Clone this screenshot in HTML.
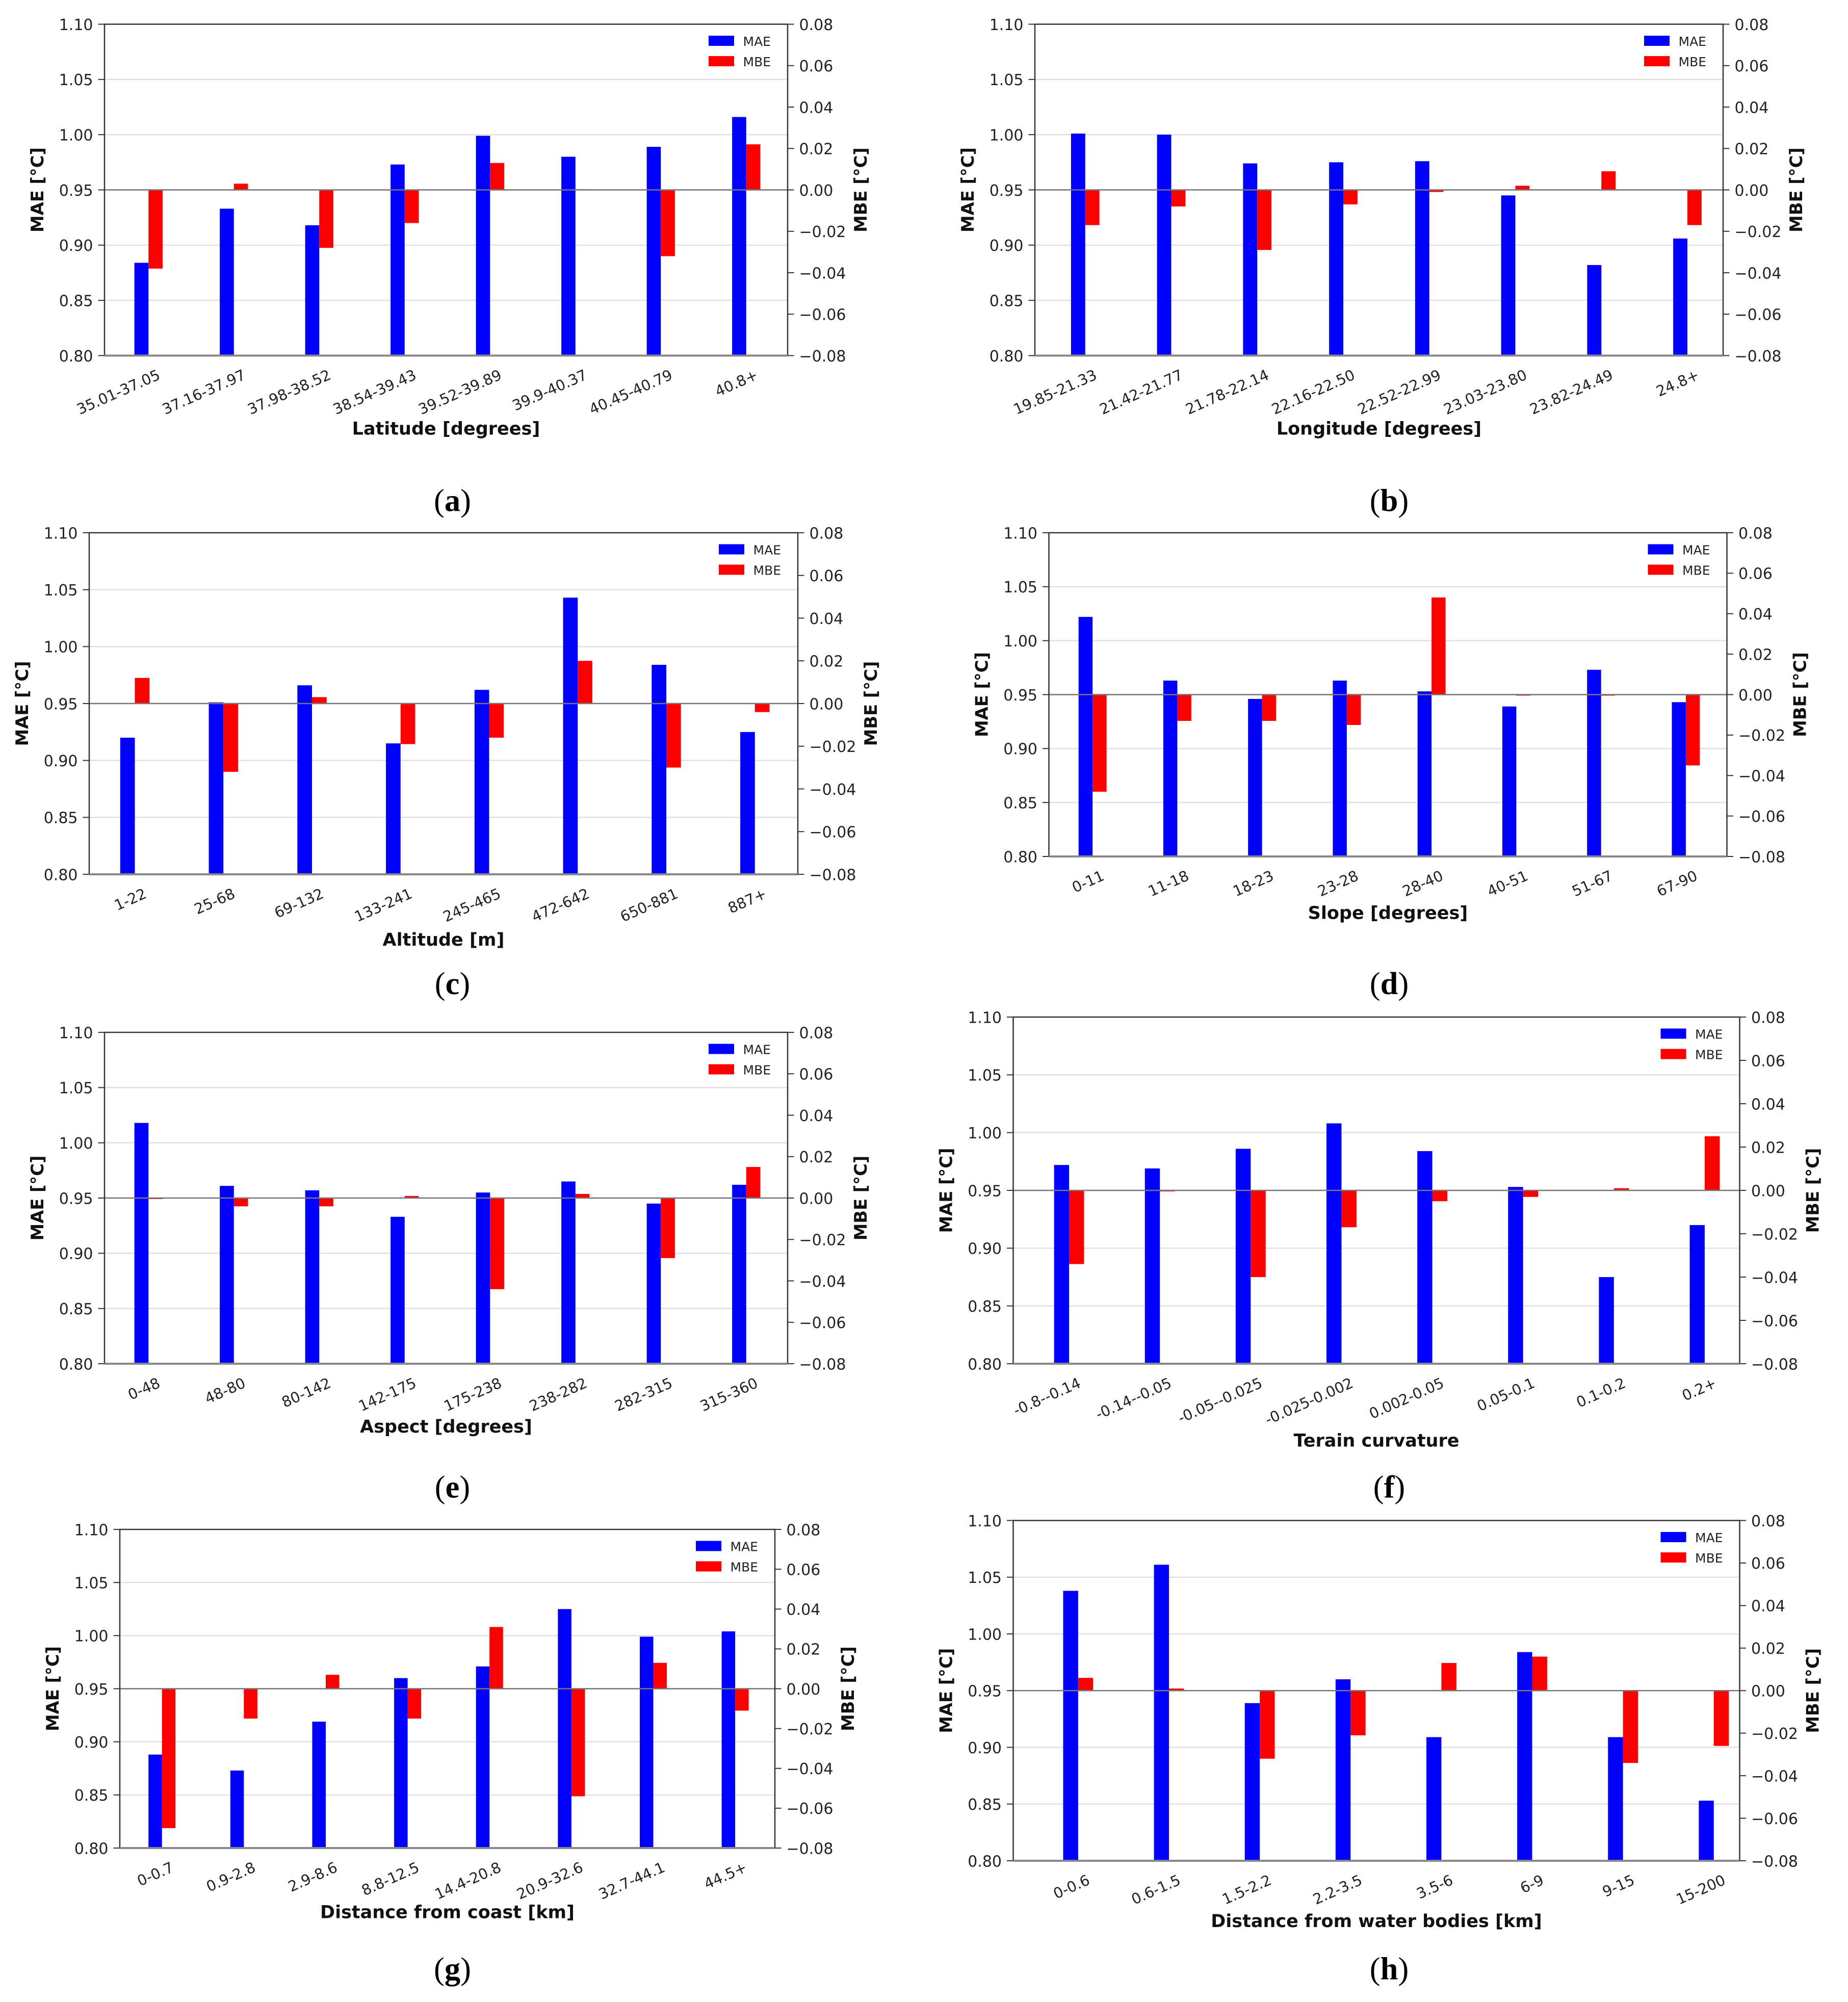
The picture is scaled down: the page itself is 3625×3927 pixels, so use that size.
<!DOCTYPE html>
<html><head><meta charset="utf-8"><style>
html,body{margin:0;padding:0;background:#fff;}
svg{display:block;}
text{font-family:"DejaVu Sans","Liberation Sans",sans-serif;}
.cap{font-family:"Liberation Serif",serif;}
</style></head><body>
<svg id="fig" width="3625" height="3927" viewBox="0 0 1450 1570.8" xmlns="http://www.w3.org/2000/svg"></svg>
<script>
// ---- data ----
const catsA = ["35.01-37.05","37.16-37.97","37.98-38.52","38.54-39.43","39.52-39.89","39.9-40.37","40.45-40.79","40.8+"];
const maeA = [0.884,0.933,0.918,0.973,0.999,0.980,0.989,1.016];
const mbeA = [-0.038,0.003,-0.028,-0.016,0.013,0.0003,-0.032,0.022];
const catsB = ["19.85-21.33","21.42-21.77","21.78-22.14","22.16-22.50","22.52-22.99","23.03-23.80","23.82-24.49","24.8+"];
const maeB = [1.001,1.000,0.974,0.975,0.976,0.945,0.882,0.906];
const mbeB = [-0.017,-0.008,-0.029,-0.007,-0.001,0.002,0.009,-0.017];
const catsC = ["1-22","25-68","69-132","133-241","245-465","472-642","650-881","887+"];
const maeC = [0.920,0.951,0.966,0.915,0.962,1.043,0.984,0.925];
const mbeC = [0.012,-0.032,0.003,-0.019,-0.016,0.020,-0.030,-0.004];
const catsD = ["0-11","11-18","18-23","23-28","28-40","40-51","51-67","67-90"];
const maeD = [1.022,0.963,0.946,0.963,0.953,0.939,0.973,0.943];
const mbeD = [-0.048,-0.013,-0.013,-0.015,0.048,0,0,-0.035];
const catsE = ["0-48","48-80","80-142","142-175","175-238","238-282","282-315","315-360"];
const maeE = [1.018,0.961,0.957,0.933,0.955,0.965,0.945,0.962];
const mbeE = [0,-0.004,-0.004,0.001,-0.044,0.002,-0.029,0.015];
const catsF = ["-0.8--0.14","-0.14--0.05","-0.05--0.025","-0.025-0.002","0.002-0.05","0.05-0.1","0.1-0.2","0.2+"];
const maeF = [0.972,0.969,0.986,1.008,0.984,0.953,0.875,0.920];
const mbeF = [-0.034,0,-0.040,-0.017,-0.005,-0.003,0.001,0.025];
const catsG = ["0-0.7","0.9-2.8","2.9-8.6","8.8-12.5","14.4-20.8","20.9-32.6","32.7-44.1","44.5+"];
const maeG = [0.888,0.873,0.919,0.960,0.971,1.025,0.999,1.004];
const mbeG = [-0.070,-0.015,0.007,-0.015,0.031,-0.054,0.013,-0.011];
const catsH = ["0-0.6","0.6-1.5","1.5-2.2","2.2-3.5","3.5-6","6-9","9-15","15-200"];
const maeH = [1.038,1.061,0.939,0.960,0.909,0.984,0.909,0.853];
const mbeH = [0.006,0.001,-0.032,-0.021,0.013,0.016,-0.034,-0.026];
const leftTicks = ["0.80","0.85","0.90","0.95","1.00","1.05","1.10"];
const rightTicks = ["\u22120.08","\u22120.06","\u22120.04","\u22120.02","0.00","0.02","0.04","0.06","0.08"];

const panels = [
 {id:"a",cats:catsA,mae:maeA,mbe:mbeA,L:82,R:618,T:19,B:279,xl:"Latitude [degrees]",xly:336,cy:393,off:0.35},
 {id:"b",cats:catsB,mae:maeB,mbe:mbeB,L:812,R:1352,T:19,B:279,xl:"Longitude [degrees]",xly:336,cy:393,off:0.42},
 {id:"c",cats:catsC,mae:maeC,mbe:mbeC,L:70,R:626,T:418,B:686,xl:"Altitude [m]",xly:737,cy:772,off:0.35},
 {id:"d",cats:catsD,mae:maeD,mbe:mbeD,L:823,R:1355,T:418,B:672,xl:"Slope [degrees]",xly:716,cy:772,off:0.35},
 {id:"e",cats:catsE,mae:maeE,mbe:mbeE,L:82,R:618,T:810,B:1070,xl:"Aspect [degrees]",xly:1119,cy:1167,off:0.35},
 {id:"f",cats:catsF,mae:maeF,mbe:mbeF,L:795,R:1365,T:798,B:1070,xl:"Terain curvature",xly:1130,cy:1167,off:0.45},
 {id:"g",cats:catsG,mae:maeG,mbe:mbeG,L:94,R:608,T:1200,B:1450,xl:"Distance from coast [km]",xly:1500,cy:1545,off:0.35},
 {id:"h",cats:catsH,mae:maeH,mbe:mbeH,L:795,R:1365,T:1193,B:1460,xl:"Distance from water bodies [km]",xly:1507,cy:1545,off:0.55}
];
const NS="http://www.w3.org/2000/svg";
const svg=document.getElementById("fig");
function mk(tag,attrs,parent,txt){const e=document.createElementNS(NS,tag);for(const k in attrs)e.setAttribute(k,attrs[k]);if(txt!==undefined)e.textContent=txt;parent.appendChild(e);return e;}
panels.forEach(p=>{
 const g=mk("g",{},svg);
 
 
 const yL=v=>p.B-(v-0.80)/(0.30)*(p.B-p.T);
 const yR=v=>p.B-(v+0.08)/(0.16)*(p.B-p.T);
 const cw=(p.R-p.L)/p.cats.length;
 const bw=cw*0.165;
 leftTicks.forEach((t,i)=>{const y=yL(parseFloat(t));
  if(i>0&&i<leftTicks.length-1){const l=mk("line",{x1:p.L,x2:p.R,y1:y,y2:y,stroke:"#e0e0e0","stroke-width":1},g);
   }
  mk("line",{x1:p.L-5,x2:p.L,y1:y,y2:y,stroke:"#333","stroke-width":0.8},g);
  const tx=mk("text",{x:p.L-9,y:y+4.5,"text-anchor":"end","font-size":12,fill:"#222"},g,t);
  
 });
 rightTicks.forEach((t,i)=>{const v=-0.08+0.02*i;const y=yR(v);
  mk("line",{x1:p.R,x2:p.R+5,y1:y,y2:y,stroke:"#333","stroke-width":0.8},g);
  const tx=mk("text",{x:p.R+9,y:y+4.5,"text-anchor":"start","font-size":12,fill:"#222"},g,t);
  
 });
 p.cats.forEach((c,i)=>{
  const x0=p.L+i*cw+cw*p.off;
  const ym=yL(p.mae[i]);
  const b=mk("rect",{x:x0,y:ym,width:bw,height:p.B-ym,fill:"#0000ff"},g);
  
  const y0=yR(0),y1=yR(p.mbe[i]);
  const r=mk("rect",{x:x0+bw,y:Math.min(y0,y1),width:bw,height:Math.max(Math.abs(y1-y0),0.8),fill:"#ff0000"},g);
  
  const lx=x0+bw+10,ly=p.B+18;
  const t=mk("text",{x:lx,y:ly,"text-anchor":"end","font-size":11.5,fill:"#222",transform:`rotate(-24 ${lx} ${ly})`},g,c);
  
 });
 mk("line",{x1:p.L,x2:p.R,y1:yR(0),y2:yR(0),stroke:"#777","stroke-width":1},g);
 mk("polyline",{points:`${p.L},${p.B} ${p.L},${p.T} ${p.R},${p.T} ${p.R},${p.B}`,fill:"none",stroke:"#333","stroke-width":1},g);
 mk("line",{x1:p.L,x2:p.R,y1:p.B,y2:p.B,stroke:"#888","stroke-width":1.6},g);
 const lg=mk("g",{},g);
 
 const lx=p.R-62,ly=p.T+9;
 mk("rect",{x:lx,y:ly,width:20,height:8,fill:"#0000ff"},lg);
 mk("text",{x:lx+27,y:ly+8,"font-size":10,fill:"#222"},lg,"MAE");
 mk("rect",{x:lx,y:ly+16,width:20,height:8,fill:"#ff0000"},lg);
 mk("text",{x:lx+27,y:ly+24,"font-size":10,fill:"#222"},lg,"MBE");
 const my=(p.T+p.B)/2;
 const a1=mk("text",{x:p.L-48,y:my,"text-anchor":"middle","font-size":13.5,"font-weight":"bold",fill:"#111",transform:`rotate(-90 ${p.L-48} ${my})`},g,"MAE [°C]");
 
 const a2=mk("text",{x:p.R+62,y:my,"text-anchor":"middle","font-size":13.5,"font-weight":"bold",fill:"#111",transform:`rotate(-90 ${p.R+62} ${my})`},g,"MBE [°C]");
 
 const xt=mk("text",{x:(p.L+p.R)/2,y:p.xly+5,"text-anchor":"middle","font-size":14,"font-weight":"bold",fill:"#111"},g,p.xl);
 
 const cap=mk("text",{x:(p.id.charCodeAt(0)%2? 355:1090),y:p.cy+8,"text-anchor":"middle","font-size":25,fill:"#000",class:"cap"},g);
 
 mk("tspan",{},cap,"(");mk("tspan",{"font-weight":"bold"},cap,p.id);mk("tspan",{},cap,")");
});
</script>
</body></html>
